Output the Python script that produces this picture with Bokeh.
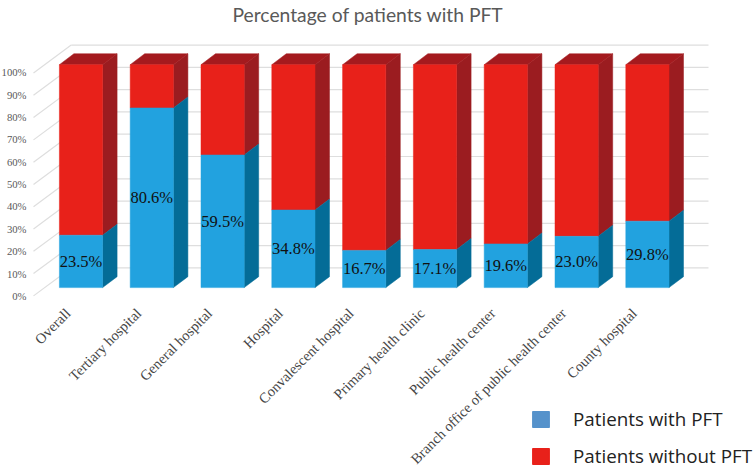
import math
from bokeh.embed import file_html
from bokeh.resources import INLINE
from bokeh.models import Range1d, LinearAxis, FixedTicker, Legend, LegendItem, Title
from bokeh.plotting import figure
from bokeh.core.properties import value

CATEGORIES = ["Overall", "Tertiary hospital", "General hospital", "Hospital", "Convalescent hospital",
              "Primary health clinic", "Public health center", "Branch office of public health center",
              "County hospital"]
WITH_PFT = [23.5, 80.6, 59.5, 34.8, 16.7, 17.1, 19.6, 23.0, 29.8]
TICKS = [0, 10, 20, 30, 40, 50, 60, 70, 80, 90, 100]
TOTAL = 100

BLUE, DBLUE, RED, DRED, TOPRED = "#22a2df", "#046c97", "#e8211a", "#9b1c20", "#a41a1e"
GREY = "#595959"; GRID = "#dedede"

L, R, T, B = 0, 756, 24, 468           # frame, page pixels
X0, XS = 80.5, 70.8                    # first bar centre, spacing
Y0, YS = 286.7, 2.234                  # baseline px, px per percent
HW = 21.6 / XS; DX = 14.5 / XS; DY = 11 / YS

px_x = lambda px: (px - X0) / XS

p = figure(width=756, height=468, output_backend="svg", toolbar_location=None,
           y_axis_location=None,
           x_range=Range1d(px_x(L), px_x(R)),
           y_range=Range1d((Y0 - B) / YS, (Y0 - T) / YS),
           min_border_left=0, min_border_right=0, min_border_top=T, min_border_bottom=0)
p.outline_line_color = None
p.grid.visible = False
p.background_fill_color = "white"

# walls
wx_front, wx_back = px_x(33), px_x(70.7)
wx_right = px_x(708)
f_off, b_off = (Y0 - 295) / YS, (Y0 - 267) / YS
p.multi_line([[wx_front, wx_back] for _ in TICKS], [[t + f_off, t + b_off] for t in TICKS],
             line_color=GRID, line_width=1.2)
p.multi_line([[wx_back, wx_right] for _ in TICKS], [[t + b_off, t + b_off] for t in TICKS],
             line_color=GRID, line_width=1.2)

# bars
idx = list(range(len(CATEGORIES)))
rs = [i + HW for i in idx]
ls = [i - HW for i in idx]
p.patches([[r, r + DX, r + DX, r] for r in rs],
          [[v, v + DY, TOTAL + DY, TOTAL] for v in WITH_PFT], fill_color=DRED, line_color=DRED, line_width=0.5)
p.patches([[r, r + DX, r + DX, r] for r in rs],
          [[0, DY, v + DY, v] for v in WITH_PFT], fill_color=DBLUE, line_color=DBLUE, line_width=0.5)
p.patches([[a, b, b + DX, a + DX] for a, b in zip(ls, rs)],
          [[TOTAL, TOTAL, TOTAL + DY, TOTAL + DY] for _ in idx], fill_color=TOPRED, line_color=TOPRED, line_width=0.5)
p.quad(left=ls, right=rs, bottom=WITH_PFT, top=[TOTAL] * len(idx), fill_color=RED, line_color=RED, line_width=0.5)
p.quad(left=ls, right=rs, bottom=[0] * len(idx), top=WITH_PFT, fill_color=BLUE, line_color=BLUE, line_width=0.5)

p.text(x=idx, y=[v / 2 for v in WITH_PFT], text=[f"{v:.1f}%" for v in WITH_PFT],
       text_font=value("Liberation Serif"), text_font_size="16.5px", text_color="#111111",
       text_align="center", text_baseline="middle")

# y labels (axis inside the frame, on its own slightly steeper range)
p.extra_y_ranges = {"labels": Range1d((295 - B) / 2.24, (295 - T) / 2.24)}
ya = LinearAxis(y_range_name="labels", ticker=FixedTicker(ticks=TICKS),
                major_label_overrides={t: f"{t}%" for t in TICKS},
                fixed_location=px_x(26))
ya.axis_line_color = None; ya.major_tick_line_color = None; ya.minor_tick_line_color = None
ya.major_tick_out = 0; ya.major_tick_in = 0; ya.minor_tick_out = 0; ya.minor_tick_in = 0
ya.major_label_standoff = 0
ya.major_label_text_font = "Liberation Serif"; ya.major_label_text_font_size = "10.7px"
ya.major_label_text_color = GREY
p.add_layout(ya, "left")

# x labels (axis inside the frame, labels shifted left of bar centres)
LABEL_SHIFT = 13
p.extra_x_ranges = {"labels": Range1d(px_x(L + LABEL_SHIFT), px_x(R + LABEL_SHIFT))}
xa = p.xaxis[0]
xa.x_range_name = "labels"
xa.ticker = FixedTicker(ticks=idx)
xa.major_label_overrides = {i: c for i, c in zip(idx, CATEGORIES)}
xa.fixed_location = (Y0 - 310) / YS
xa.axis_line_color = None; xa.major_tick_line_color = None; xa.minor_tick_line_color = None
xa.major_tick_out = 0; xa.major_tick_in = 0; xa.minor_tick_out = 0; xa.minor_tick_in = 0
xa.major_label_orientation = math.pi / 4
xa.major_label_standoff = 0
xa.major_label_text_font = "Liberation Serif"; xa.major_label_text_font_size = "14.5px"
xa.major_label_text_color = "#454545"

# legend
nan = float("nan")
r1 = p.quad(left=[nan], right=[nan], bottom=[nan], top=[nan], fill_color="#5592cb", line_color="#5592cb")
r2 = p.quad(left=[nan], right=[nan], bottom=[nan], top=[nan], fill_color=RED, line_color=RED)
lg = Legend(items=[LegendItem(label="Patients with PFT", renderers=[r1]),
                   LegendItem(label="Patients without PFT", renderers=[r2])],
            location=(530 - L, -1), orientation="vertical",
            border_line_color=None, background_fill_alpha=0, padding=0, margin=0,
            glyph_width=21, glyph_height=20, label_standoff=22, spacing=11, label_height=20,
            label_text_font="Open Sans", label_text_font_size="18.8px", label_text_color="#222222")
p.add_layout(lg, "center")

p.title = Title(text="Percentage of patients with PFT", align="left", offset=232, standoff=0,
                text_font="Lato", text_font_size="19.3px", text_font_style="normal", text_color=GREY)

open("out.html", "w").write(file_html(p, INLINE))
